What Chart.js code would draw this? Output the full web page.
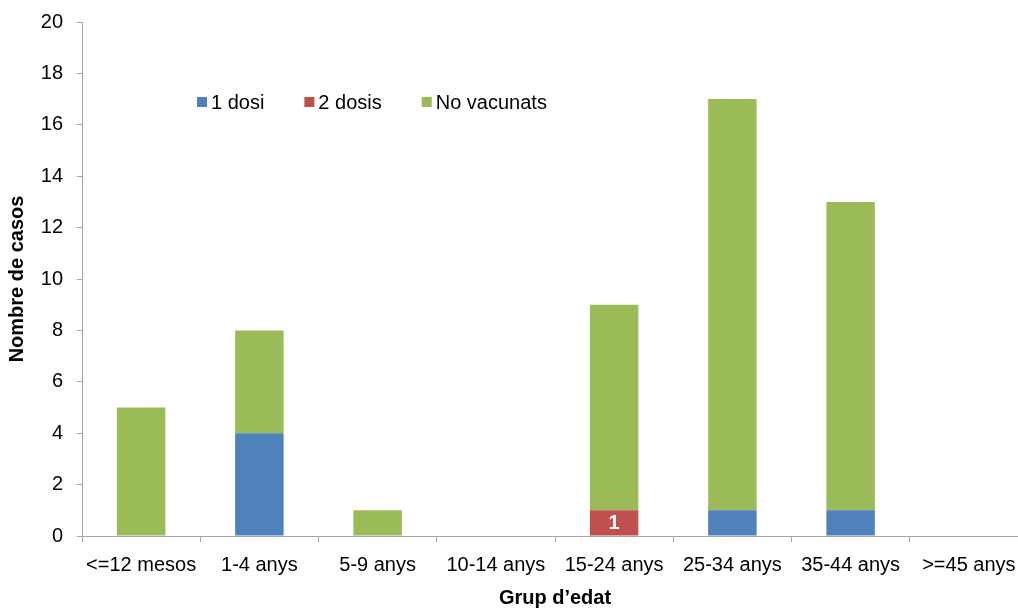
<!DOCTYPE html>
<html>
<head>
<meta charset="utf-8">
<script src="https://cdn.jsdelivr.net/npm/chart.js@4.4.1/dist/chart.umd.min.js"></script>
<style>
  html, body { margin: 0; padding: 0; background: #fff; overflow: hidden; }
  #wrap { width: 1018px; height: 609px; overflow: hidden; }
</style>
</head>
<body>
<div id="wrap"><canvas id="chart" width="1028" height="609"></canvas></div>
<script>
const groups = ['<=12 mesos', '1-4 anys', '5-9 anys', '10-14 anys', '15-24 anys', '25-34 anys', '35-44 anys', '>=45 anys'];
const oneDose = [0, 4, 0, 0, 0, 1, 1, 0];
const twoDoses = [0, 0, 0, 0, 1, 0, 0, 0];
const notVaccinated = [5, 4, 1, 0, 8, 16, 12, 0];
const yTicks = [0, 2, 4, 6, 8, 10, 12, 14, 16, 18, 20];

const FONT = '"Liberation Sans", Arial, sans-serif';
const AXIS = '#a6a6a6';

// legend drawn inside the plot, upper left
const innerLegend = {
  id: 'innerLegend',
  afterDraw(chart) {
    const { ctx, chartArea } = chart;
    let x = chartArea.left + 115;
    const y = 102;
    ctx.save();
    ctx.font = '20px ' + FONT;
    ctx.textBaseline = 'middle';
    chart.data.datasets.forEach(ds => {
      ctx.fillStyle = ds.backgroundColor;
      ctx.fillRect(x, y - 5, 10, 10);
      ctx.fillStyle = '#000';
      ctx.fillText(ds.label, x + 14, y + 1);
      x += 14 + ctx.measureText(ds.label).width + 40;
    });
    ctx.restore();
  }
};

// value labels on the "2 dosis" segments
const segmentLabels = {
  id: 'segmentLabels',
  afterDatasetsDraw(chart) {
    const { ctx } = chart;
    const meta = chart.getDatasetMeta(1);
    ctx.save();
    ctx.font = 'bold 20px ' + FONT;
    ctx.fillStyle = '#fff';
    ctx.textAlign = 'center';
    ctx.textBaseline = 'middle';
    meta.data.forEach((bar, i) => {
      const v = chart.data.datasets[1].data[i];
      if (v > 0) {
        ctx.fillText(String(v), bar.x, (bar.y + bar.base) / 2 + 1);
      }
    });
    ctx.restore();
  }
};

new Chart(document.getElementById('chart'), {
  type: 'bar',
  data: {
    labels: groups,
    datasets: [
      { label: '1 dosi', data: oneDose, backgroundColor: '#4f81bd' },
      { label: '2 dosis', data: twoDoses, backgroundColor: '#c0504d' },
      { label: 'No vacunats', data: notVaccinated, backgroundColor: '#9bbb59' }
    ]
  },
  options: {
    responsive: false,
    animation: false,
    layout: { padding: { top: 22, right: 0, bottom: 0, left: 0 } },
    datasets: { bar: { categoryPercentage: 1, barPercentage: 0.41 } },
    plugins: {
      legend: { display: false },
      tooltip: { enabled: false }
    },
    scales: {
      x: {
        stacked: true,
        afterFit: scale => { scale.height = 73; },
        border: { color: AXIS, width: 1 },
        grid: { offset: true, drawOnChartArea: false, drawTicks: true, tickLength: 6, color: AXIS },
        ticks: { color: '#000', font: { family: FONT, size: 20 }, padding: 11, maxRotation: 0 },
        title: {
          display: true,
          text: 'Grup d’edat',
          color: '#000',
          font: { family: FONT, size: 20, weight: 'bold', lineHeight: 1.1 },
          padding: { top: 0, bottom: 0 }
        }
      },
      y: {
        stacked: true,
        min: 0,
        max: 20,
        afterFit: scale => {
          scale.width = 82;
          scale.paddingTop = 0;
          scale.paddingBottom = 0;
        },
        afterBuildTicks: scale => { scale.ticks = yTicks.map(v => ({ value: v })); },
        border: { color: AXIS, width: 1 },
        grid: { drawOnChartArea: false, drawTicks: true, tickLength: 5, color: AXIS },
        ticks: { color: '#000', font: { family: FONT, size: 20 }, padding: 14 },
        title: {
          display: true,
          text: 'Nombre de casos',
          color: '#000',
          font: { family: FONT, size: 20, weight: 'bold', lineHeight: 1.1 },
          padding: { top: 6, bottom: 0 }
        }
      }
    }
  },
  plugins: [innerLegend, segmentLabels]
});
</script>
</body>
</html>
